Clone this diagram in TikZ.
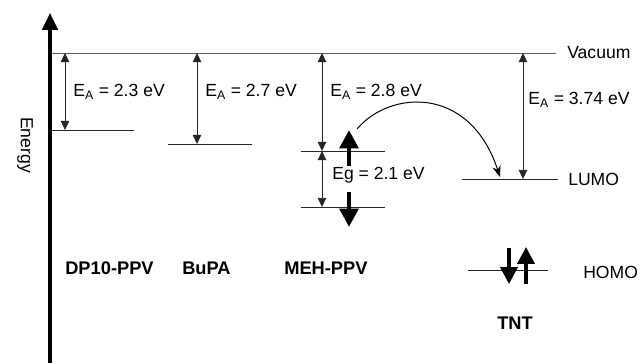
\documentclass[tikz,border=0pt]{standalone}
\usepackage{fontspec}
\setmainfont{Liberation Sans}
\usepackage{tikz}
\usetikzlibrary{arrows.meta, positioning, calc}

\begin{document}
\begin{tikzpicture}[
        x=0.025cm, y=-0.025cm,
        lvl/.style={draw=black!85, line width=0.6pt},
        gap/.style={draw=black!85, line width=0.55pt,
            {Triangle[length=6.5pt,width=6pt]}-{Triangle[length=6.5pt,width=6pt]}},
        spin/.style={line width=3.2pt, -{Triangle[length=13pt,width=13pt]}},
        lbl/.style={anchor=west, inner sep=0pt, font=\fontsize{12.5}{14}\selectfont},
        mol/.style={anchor=west, inner sep=0pt, font=\fontsize{13}{15}\selectfont\bfseries}
    ]
    \useasboundingbox (0,0) rectangle (640,363);

    % energy axis
    \coordinate (axisbot) at (50,363);
    \coordinate (axistop) at (50,13);
    \draw[line width=2.2pt, -{Triangle[length=12pt,width=11pt]}] (axisbot) -- (axistop);
    \node[rotate=-90, font=\fontsize{12.5}{14}\selectfont] (energy) at (25,145) {Energy};

    % vacuum level
    \coordinate (vacL) at (52,53);
    \coordinate (vacR) at (556,53);
    \draw[lvl, draw=black!65] (vacL) -- (vacR);
    \node[lbl] (vac) at (567,53) {Vacuum};

    % DP10-PPV
    \coordinate (dpL) at (52,130);
    \coordinate (dpR) at (134,130);
    \draw[lvl] (dpL) -- (dpR);
    \draw[gap] (65,53) coordinate (dpTop) -- (65,130) coordinate (dpBot);
    \node[lbl] (dpEA) at (73,92) {E\textsubscript{A} = 2.3 eV};
    \node[mol] (dpName) at (65,268) {DP10-PPV};

    % BuPA
    \coordinate (buL) at (168,144);
    \coordinate (buR) at (252,144);
    \draw[lvl] (buL) -- (buR);
    \draw[gap] (197,53) coordinate (buTop) -- (197,144) coordinate (buBot);
    \node[lbl] (buEA) at (205,92) {E\textsubscript{A} = 2.7 eV};
    \node[mol] (buName) at (182,268) {BuPA};

    % MEH-PPV
    \coordinate (mehLumoL) at (301,151);
    \coordinate (mehLumoR) at (385,151);
    \coordinate (mehHomoL) at (301,207);
    \coordinate (mehHomoR) at (385,207);
    \draw[lvl] (mehLumoL) -- (mehLumoR);
    \draw[lvl] (mehHomoL) -- (mehHomoR);
    \draw[gap] (322,53) coordinate (mehTop) -- (322,151) coordinate (mehMid);
    \draw[gap] (mehMid) -- (322,207) coordinate (mehBot);
    \node[lbl] (mehEA) at (330,92) {E\textsubscript{A} = 2.8 eV};
    \node[lbl] (mehEg) at (332,175) {Eg = 2.1 eV};
    \draw[spin] (349,166) coordinate (upFrom) -- (349,130) coordinate (upTo);
    \draw[spin] (349,192) coordinate (dnFrom) -- (349,227) coordinate (dnTo);
    \node[mol] (mehName) at (284,268) {MEH-PPV};

    % TNT
    \coordinate (tntLumoL) at (462,179);
    \coordinate (tntLumoR) at (558,179);
    \coordinate (tntHomoL) at (468,270);
    \coordinate (tntHomoR) at (548,270);
    \draw[lvl] (tntLumoL) -- (tntLumoR);
    \draw[lvl] (tntHomoL) -- (tntHomoR);
    \draw[gap] (523,53) coordinate (tntTop) -- (523,179) coordinate (tntBot);
    \node[lbl] (tntEA) at (528,100) {E\textsubscript{A} = 3.74 eV};
    \node[lbl] (lumo) at (568,179) {LUMO};
    \node[lbl] (homo) at (583,272) {HOMO};
    \draw[line width=2.6pt, -{Triangle[length=12pt,width=12pt]}] (509,248) coordinate (tntDnFrom) -- (509,284) coordinate (tntDnTo);
    \draw[line width=2.6pt, -{Triangle[length=12pt,width=12pt]}] (526,284) coordinate (tntUpFrom) -- (526,247) coordinate (tntUpTo);
    \node[mol] (tntName) at (497,323) {TNT};

    % electron transfer
    \draw[line width=0.7pt, -{Stealth[length=8pt,width=6pt]}] (357,129) coordinate (etFrom)
        .. controls (390,90) and (470,85) .. (500,177) coordinate (etTo);
\end{tikzpicture}
\end{document}
